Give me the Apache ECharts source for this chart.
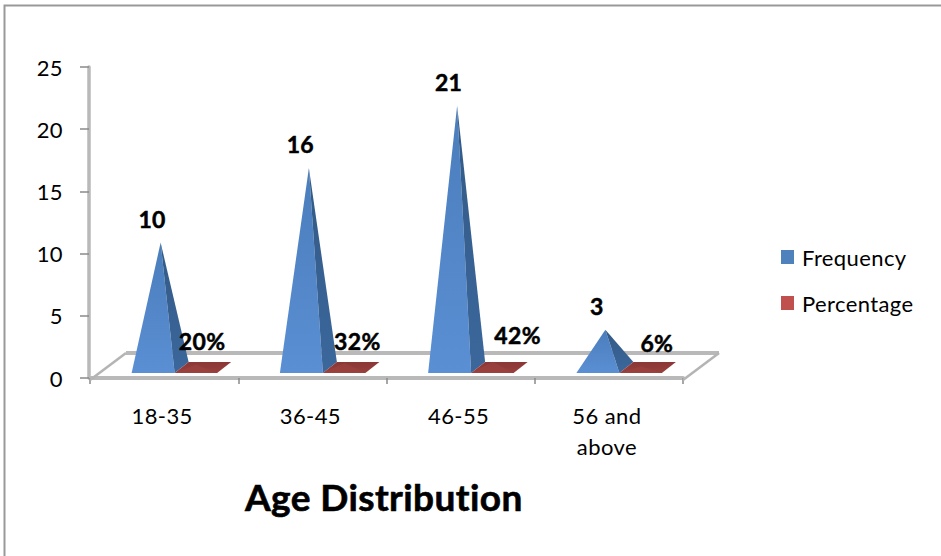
<!DOCTYPE html>
<html>
<head>
<meta charset="utf-8">
<style>
html,body{margin:0;padding:0;background:#fff;overflow:hidden}
#c{width:941px;height:556px}
#c text{font-variant-ligatures:none;letter-spacing:0.4px}
</style>
<script src="https://cdn.jsdelivr.net/npm/echarts@6/dist/echarts.min.js"></script>
</head>
<body>
<div id="c"></div>
<script>
var categories = ['18-35', '36-45', '46-55', '56 and\nabove'];
var frequency = [10, 16, 21, 3];
var percentage = [20, 32, 42, 6];
var yTicks = { min: 0, max: 25, interval: 5 };

var FONT = 'Lato';
var chart = echarts.init(document.getElementById('c'), null, { renderer: 'svg' });

// depth offset of the 3D floor plane, in pixels
var baseFront = 5, baseBack = 16, apexLift = 11;
var pctNudge = [[-1, 1], [6, 1], [18, -5], [9, 3]];
function grad(a, b) {
  return new echarts.graphic.LinearGradient(0, 0, 0, 1, [{ offset: 0, color: a }, { offset: 1, color: b }]);
}

function renderFreq(params, api) {
  var i = api.value(0), v = api.value(1);
  var o = api.coord([i, 0]), t = api.coord([i, v]);
  var cx = o[0], y0 = o[1];
  var front = y0 - baseFront, back = y0 - baseBack;
  var apex = [cx - 3.5, t[1] - apexLift];
  return {
    type: 'group',
    children: [
      { type: 'polygon', shape: { points: [[cx - 32.5, front], [cx + 10.5, front], apex] },
        style: { fill: grad('#4a7dbb', '#5a8fd4') } },
      { type: 'polygon', shape: { points: [[cx + 10.5, front], [cx + 24.5, back], apex] },
        style: { fill: grad('#335a86', '#3b679c') } },
      { type: 'text', style: { text: String(v), x: cx - 12, y: apex[1] - 24, align: 'center', verticalAlign: 'middle',
        font: 'bold 23px ' + FONT, fill: '#000', stroke: '#000', lineWidth: 0.5 } }
    ]
  };
}

function renderPct(params, api) {
  var i = api.value(0), v = api.value(1);
  var o = api.coord([i, 0]), t = api.coord([i, v / 100]);
  var cx = o[0], y0 = o[1];
  var front = y0 - baseFront, back = y0 - baseBack;
  var apex = [cx + 32, t[1] - apexLift];
  var n = pctNudge[i];
  return {
    type: 'group',
    children: [
      { type: 'polygon', shape: { points: [[cx + 10.5, front], [cx + 53, front], [cx + 67, back], [cx + 24.5, back]] },
        style: { fill: grad('#8a3735', '#98403e') } },
      { type: 'polygon', shape: { points: [[cx + 10.5, front], [cx + 53, front], apex] },
        style: { fill: '#9c4240', opacity: 0.6 } },
      { type: 'text', style: { text: v + '%', x: cx + 39 + n[0], y: back - 22 + n[1], align: 'center', verticalAlign: 'middle',
        font: 'bold 23px ' + FONT, fill: '#000', stroke: '#000', lineWidth: 0.5 } }
    ]
  };
}

function renderFloor(params, api) {
  var n = categories.length;
  var w = api.size([1, 0])[0];
  var a = api.coord([0, 0]), b = api.coord([n - 1, 0]);
  var L = a[0] - w / 2, R = b[0] + w / 2, yF = a[1] + 2, yB = a[1] - 25, d = 36;
  var thick = { stroke: '#b9b9b9', lineWidth: 4, fill: null };
  var thin = { stroke: '#b4b4b4', lineWidth: 2.5, fill: null };
  return {
    type: 'group',
    children: [
      { type: 'line', shape: { x1: L + d, y1: yB, x2: R + d, y2: yB }, style: thick },
      { type: 'line', shape: { x1: L, y1: yF, x2: L + d, y2: yB }, style: thin },
      { type: 'line', shape: { x1: R, y1: yF, x2: R + d, y2: yB }, style: thin }
    ]
  };
}

chart.setOption({
  animation: false,
  backgroundColor: '#fff',
  textStyle: { fontFamily: FONT },
  graphic: [{
    type: 'rect', left: 2, top: 3, silent: true, z: 0,
    shape: { x: 0, y: 0, width: 938, height: 560 },
    style: { fill: 'none', stroke: '#999', lineWidth: 2 }
  }],
  title: {
    text: 'Age Distribution', left: 245, top: 478, padding: 0,
    textStyle: { fontFamily: FONT, fontWeight: 'bold', fontSize: 37, color: '#000', textBorderColor: '#000', textBorderWidth: 0.6 }
  },
  legend: {
    data: ['Frequency', 'Percentage'], orient: 'vertical', left: 781, top: 246, padding: 0,
    itemWidth: 13, itemHeight: 14, itemGap: 24, icon: 'rect', selectedMode: false,
    textStyle: { fontFamily: FONT, fontSize: 22, color: '#000', padding: [0, 0, 0, 3] }
  },
  grid: { left: 90, right: 258, top: 67, height: 311 },
  xAxis: {
    type: 'category', data: categories, offset: 2,
    axisLine: { lineStyle: { color: '#b9b9b9', width: 4 } },
    axisTick: { show: true, length: 6, alignWithLabel: false, lineStyle: { color: '#8a8a8a', width: 1.5 } },
    axisLabel: { fontFamily: FONT, fontSize: 22, color: '#000', margin: 20, lineHeight: 31, interval: 0, padding: [0, 4, 0, 0] },
    splitLine: { show: false }
  },
  yAxis: {
    type: 'value', min: yTicks.min, max: yTicks.max, interval: yTicks.interval, offset: 1,
    axisLine: { show: true, lineStyle: { color: '#b9b9b9', width: 3.5 } },
    axisTick: { show: true, length: 9, lineStyle: { color: '#8a8a8a', width: 1.5 } },
    axisLabel: { fontFamily: FONT, fontSize: 22, color: '#000', margin: 26, padding: [3, 0, 0, 0] },
    splitLine: { show: false }
  },
  series: [
    { type: 'custom', name: 'floor', z: 1, silent: true, renderItem: renderFloor, data: [[0, 0]] },
    { type: 'custom', name: 'Frequency', z: 3, renderItem: renderFreq, itemStyle: { color: '#4F81BD' },
      encode: { x: 0, y: 1 }, data: frequency.map(function (v, i) { return [i, v]; }) },
    { type: 'custom', name: 'Percentage', z: 4, renderItem: renderPct, itemStyle: { color: '#C0504D' },
      encode: { x: 0, y: 1 }, data: percentage.map(function (v, i) { return [i, v]; }) }
  ]
});
</script>
</body>
</html>
